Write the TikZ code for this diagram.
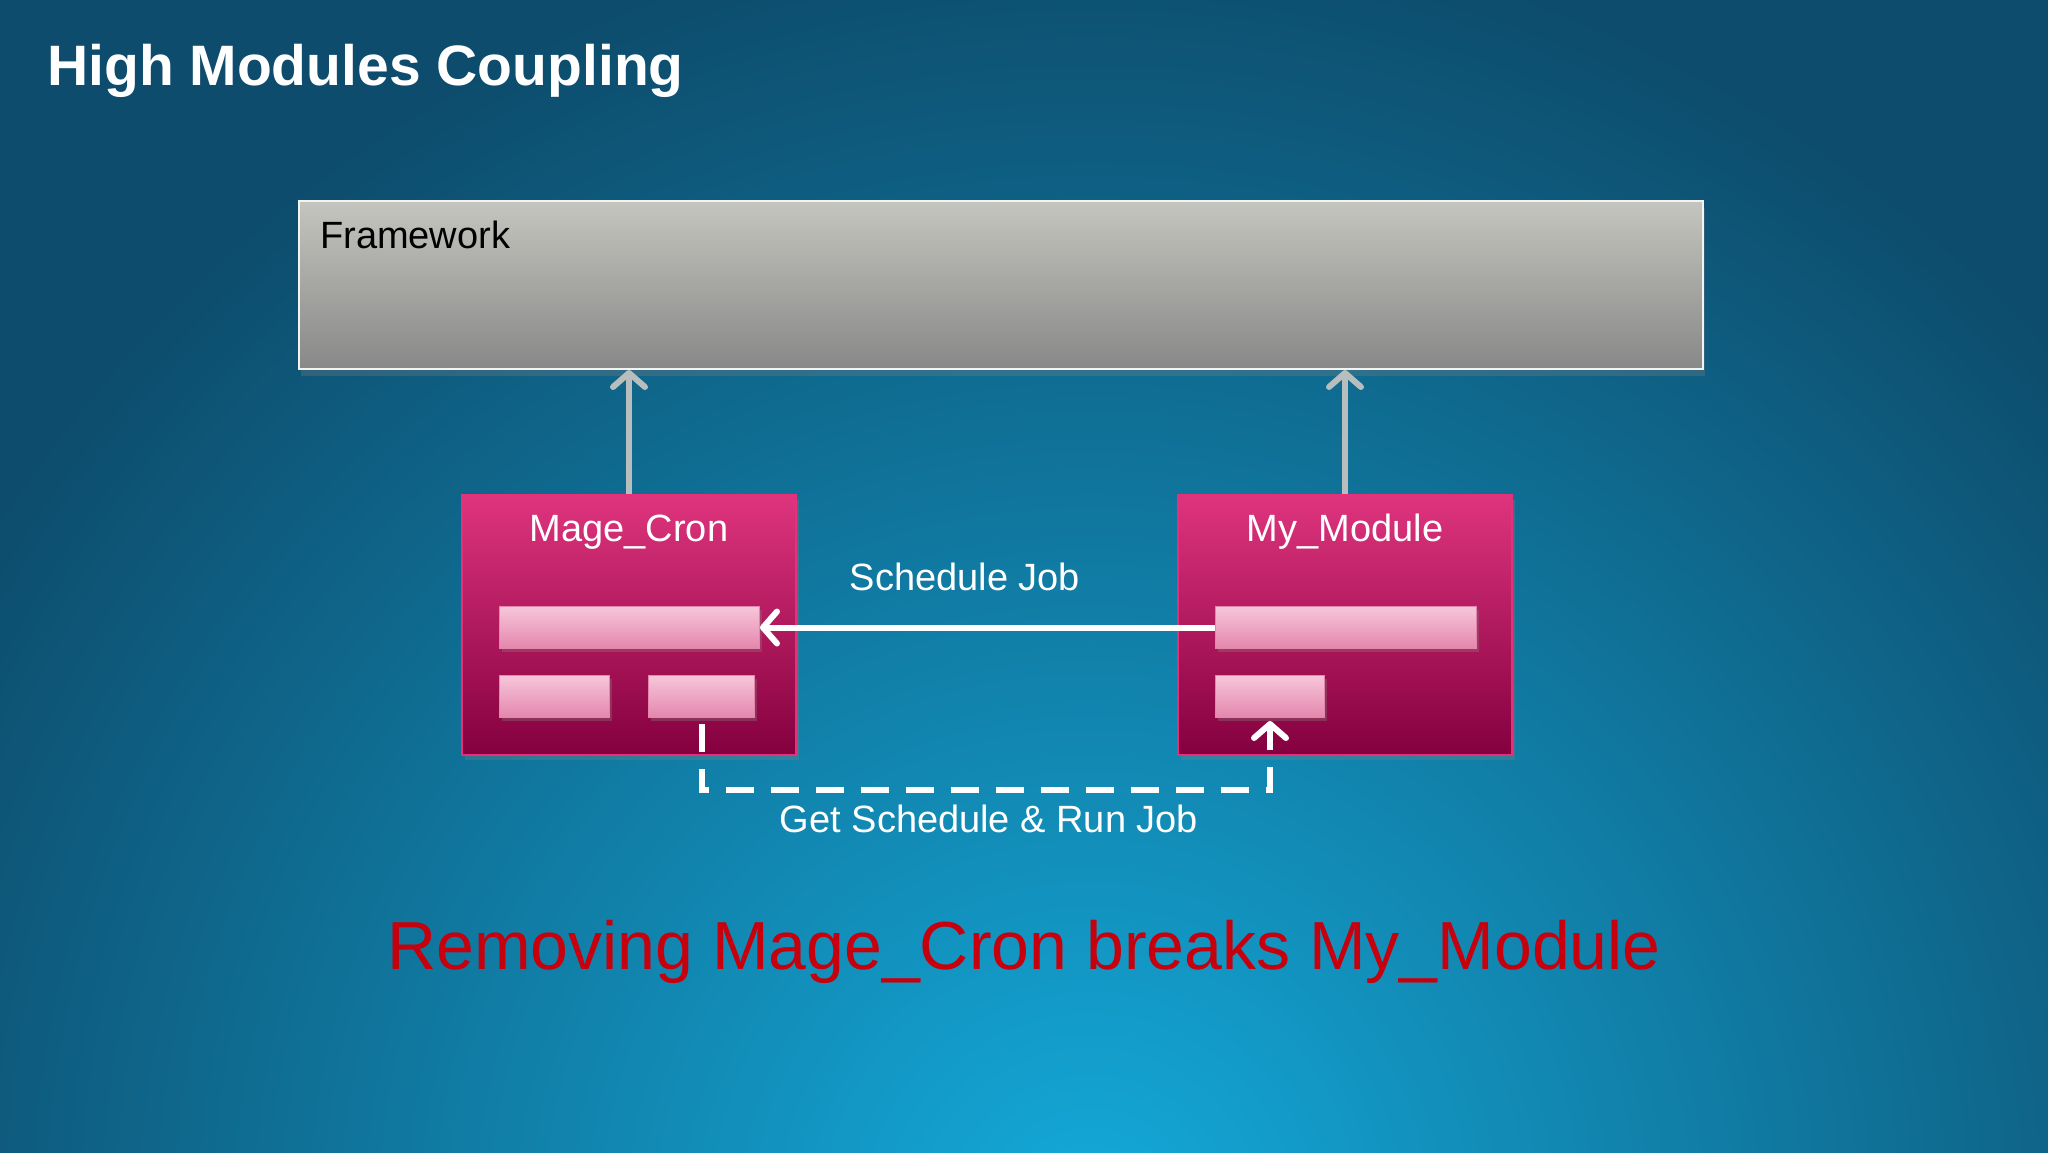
\documentclass[tikz,border=0pt]{standalone}
\usepackage{fontspec}
\setmainfont{Liberation Sans}
\usetikzlibrary{shapes, arrows, arrows.meta, positioning, shadows}
\definecolor{bgdark}{RGB}{13,76,108}
\definecolor{bgcyan}{RGB}{20,170,218}
\definecolor{fwtop}{RGB}{196,197,190}
\definecolor{fwbottom}{RGB}{136,136,136}
\definecolor{modtop}{RGB}{222,52,126}
\definecolor{modbottom}{RGB}{132,0,62}
\definecolor{modborder}{RGB}{232,48,122}
\definecolor{bartop}{RGB}{247,198,218}
\definecolor{barbottom}{RGB}{228,134,172}
\definecolor{linkgray}{RGB}{184,190,190}
\definecolor{warnred}{RGB}{198,0,12}
\tikzstyle{framework} = [rectangle, draw=white!80!fwtop, line width=2pt, top color=fwtop, bottom color=fwbottom, minimum width=1404pt, minimum height=168pt, inner sep=0pt, anchor=north west, drop shadow={opacity=0.3, shadow xshift=2pt, shadow yshift=-7pt}]
\tikzstyle{module} = [rectangle, draw=modborder, line width=2pt, top color=modtop, bottom color=modbottom, minimum width=334pt, minimum height=260pt, inner sep=0pt, anchor=north west, drop shadow={opacity=0.3, shadow xshift=3pt, shadow yshift=-5pt}]
\tikzstyle{slot} = [rectangle, draw=barbottom, line width=1pt, top color=bartop, bottom color=barbottom, minimum height=42pt, inner sep=0pt, anchor=north west, drop shadow={opacity=0.35, shadow xshift=2pt, shadow yshift=-3pt}]
\tikzstyle{boxtext} = [font=\fontsize{38}{44}\selectfont, inner sep=0pt]
\tikzstyle{uses} = [draw=linkgray, line width=6pt, -{Straight Barb[length=14pt, width=32pt, line cap=round, line join=round]}]
\tikzstyle{calls} = [draw=white, line width=6pt, -{Straight Barb[length=14pt, width=32pt, line cap=round, line join=round]}]
\tikzstyle{callsback} = [draw=white, line width=6pt, dash pattern=on 28pt off 17pt, -{Straight Barb[length=14pt, width=32pt, line cap=round, line join=round]}]

\begin{document}
\begin{tikzpicture}[x=1pt, y=-1pt]
	\useasboundingbox (0,0) rectangle (2048,1152);
	\begin{scope}
		\clip (-6,-6) rectangle (2054,1158);
		\fill[bgdark] (-6,-6) rectangle (2054,1158);
		\shade[inner color=bgcyan, outer color=bgdark] (1090,1220) circle (1300);
	\end{scope}
	\node[anchor=base west, inner sep=0pt, text=white, font=\fontsize{57}{64}\selectfont\bfseries] (title) at (47,85) {High Modules Coupling};
	% framework layer
	\node[framework] (fw) at (298,200) {};
	\node[boxtext, anchor=base west, text=black] (fwname) at ([xshift=22pt, yshift=-48pt]fw.north west) {Framework};
	% the two modules
	\node[module] (cron) at (461,494) {};
	\node[boxtext, anchor=base, text=white] (cronname) at ([yshift=-47pt]cron.north) {Mage\_Cron};
	\node[slot, minimum width=260pt] (cronjob) at (499,606) {};
	\node[slot, minimum width=110pt] (cronleft) at (499,675) {};
	\node[slot, minimum width=106pt] (cronrun) at (648,675) {};
	\node[module] (mine) at (1177,494) {};
	\node[boxtext, anchor=base, text=white] (minename) at ([yshift=-47pt]mine.north) {My\_Module};
	\node[slot, minimum width=261pt] (minejob) at (1215,606) {};
	\node[slot, minimum width=109pt] (minetask) at (1215,675) {};
	% dependencies
	\draw[uses] (cron.north) -- (cron.north |- fw.south);
	\draw[uses] (mine.north) -- (mine.north |- fw.south);
	\draw[calls] (minejob.west) -- (cronjob.east);
	\node[boxtext, anchor=base, text=white] (schedlabel) at (965,590) {Schedule Job};
	\draw[callsback] ([yshift=-6pt]cronrun.south) -- ++(0,66) -| ([yshift=-3pt]minetask.south);
	\node[boxtext, anchor=base, text=white] (runlabel) at (989,832) {Get Schedule \& Run Job};
	\node[anchor=base, inner sep=0pt, text=warnred, font=\fontsize{68}{76}\selectfont] (warning) at (1024,969) {Removing Mage\_Cron breaks My\_Module};
\end{tikzpicture}
\end{document}
